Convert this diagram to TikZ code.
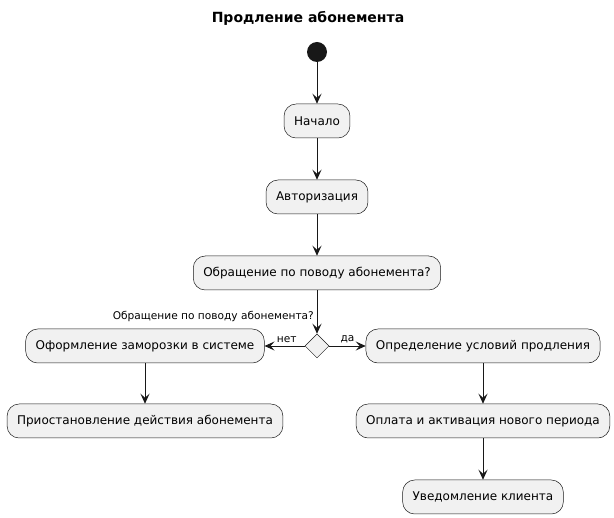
\documentclass[tikz,border=0pt]{standalone}
\usepackage{fontspec}
\setmainfont{DejaVu Sans}
\usetikzlibrary{positioning,shapes.geometric,arrows.meta}
\definecolor{actfill}{HTML}{F1F1F1}
\definecolor{actline}{HTML}{181818}
\tikzset{
    % Stile per le azioni (rettangolo arrotondato)
    action/.style={draw=actline, fill=actfill, line width=0.5pt,
                   rounded corners=12pt, align=center,
                   minimum height=34pt, inner xsep=10pt,
                   font=\fontsize{12}{14}\selectfont},
    % Stile per la decisione (rombo)
    decision/.style={draw=actline, fill=actfill, line width=0.5pt, diamond,
                     minimum width=24pt, minimum height=24pt, inner sep=0pt},
    % Stile per il nodo iniziale
    startdot/.style={circle, fill=actline, minimum size=20pt, inner sep=0pt},
    flow/.style={draw=actline, line width=0.9pt,
                 -{Stealth[length=10pt, width=9pt, inset=4pt]}},
    guard/.style={font=\fontsize{10.6}{13}\selectfont, inner sep=0pt}
}
\begin{document}
\begin{tikzpicture}[x=1pt, y=-1pt]
    \useasboundingbox (0,0) rectangle (614,518);
    \node[font=\bfseries\fontsize{14}{16}\selectfont] (title) at (308,18) {Продление абонемента};
    \node[startdot] (start) at (317,52) {};
    \node[action] (begin) at (317,121) {Начало};
    \node[action] (auth) at (317,197) {Авторизация};
    \node[action] (ask) at (317,273) {Обращение по поводу абонемента?};
    \node[decision] (choice) at (317,346) {};
    \node[guard, anchor=east] (asklabel) at (314,316) {Обращение по поводу абонемента?};
    \node[action] (freeze) at (145,346) {Оформление заморозки в системе};
    \node[action] (suspend) at (145,421) {Приостановление действия абонемента};
    \node[action] (terms) at (483,346) {Определение условий продления};
    \node[action] (payment) at (483,421) {Оплата и активация нового периода};
    \node[action] (notify) at (483,497) {Уведомление клиента};

    \draw[flow] (start) -- (begin);
    \draw[flow] (begin) -- (auth);
    \draw[flow] (auth) -- (ask);
    \draw[flow] (ask) -- (choice);
    \draw[flow] (choice) -- (freeze) node[guard, pos=0.45, above=3pt] (no) {нет};
    \draw[flow] (choice) -- (terms) node[guard, pos=0.5, above=3pt] (yes) {да};
    \draw[flow] (freeze) -- (suspend);
    \draw[flow] (terms) -- (payment);
    \draw[flow] (payment) -- (notify);
\end{tikzpicture}
\end{document}
